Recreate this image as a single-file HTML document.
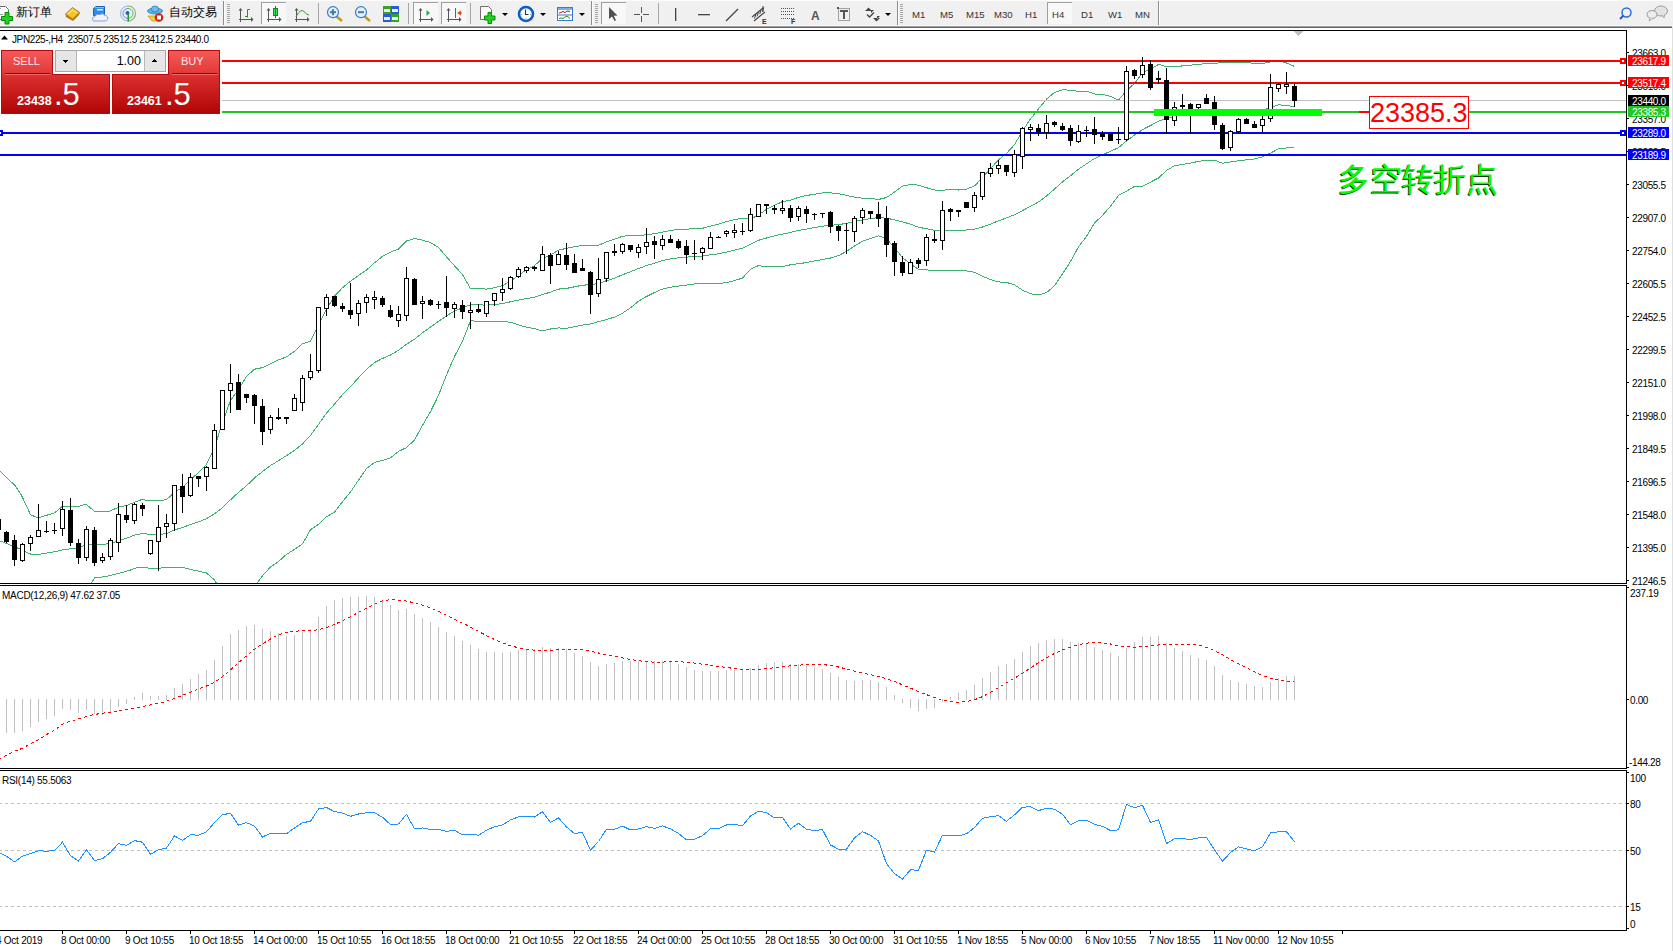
<!DOCTYPE html>
<html><head><meta charset="utf-8"><style>
html,body{margin:0;padding:0;width:1673px;height:951px;overflow:hidden;background:#fff;font-family:"Liberation Sans",sans-serif;}
.t{position:absolute;white-space:nowrap;line-height:1;}
</style></head><body>
<svg width="1673" height="951" style="position:absolute;left:0;top:0" shape-rendering="crispEdges">
<rect x="0" y="30" width="1627" height="1" fill="#000"/>
<rect x="0" y="583" width="1627" height="1" fill="#000"/>
<rect x="1626" y="30" width="1" height="554" fill="#000"/>
<rect x="0" y="585" width="1627" height="1" fill="#000"/>
<rect x="0" y="768" width="1627" height="1" fill="#000"/>
<rect x="1626" y="585" width="1" height="184" fill="#000"/>
<rect x="0" y="770" width="1627" height="1" fill="#000"/>
<rect x="0" y="930" width="1627" height="1" fill="#000"/>
<rect x="1626" y="770" width="1" height="161" fill="#000"/>
<defs><clipPath id="cm"><rect x="0" y="31" width="1626" height="552"/></clipPath></defs>
<g clip-path="url(#cm)">
<polyline points="-10.0,455.0 0.0,471.3 15.2,485.7 21.3,494.9 30.5,514.7 38.1,518.0 45.7,515.5 54.1,513.2 62.5,506.3 70.0,506.3 78.5,506.3 86.1,504.3 94.5,511.2 109.8,511.2 118.9,507.0 126.5,505.5 134.0,502.5 141.8,499.5 150.5,500.9 158.5,500.7 166.5,499.7 174.5,492.1 182.5,487.7 190.5,479.5 198.5,472.7 206.5,464.4 214.5,447.5 222.5,422.5 230.5,400.5 238.5,389.4 246.5,376.4 254.5,369.2 262.5,367.6 270.5,363.9 278.5,359.8 286.5,356.9 294.5,351.3 302.5,343.8 310.5,341.1 318.5,324.5 326.5,309.5 334.5,296.1 342.5,287.7 350.5,281.2 358.5,275.5 366.5,270.0 374.5,262.8 382.5,256.3 390.5,252.1 398.5,249.1 406.5,241.0 414.5,238.5 422.5,240.2 430.5,242.5 438.5,247.5 446.5,256.8 454.5,265.8 462.5,274.5 470.5,288.7 478.5,288.6 486.5,289.1 494.5,287.7 502.5,285.7 510.5,281.2 518.5,275.2 526.5,269.9 534.5,265.6 542.5,258.3 550.5,255.1 558.5,250.2 566.5,248.3 574.5,246.8 582.5,245.3 590.5,245.5 598.5,245.3 606.5,241.9 614.5,239.1 622.5,236.3 630.5,235.5 638.5,235.8 646.5,234.6 654.5,233.7 662.5,232.1 670.5,230.5 678.5,229.4 686.5,229.1 694.5,228.8 702.5,228.3 710.5,226.1 718.5,224.3 726.5,221.5 734.5,219.6 742.5,218.1 750.5,219.0 758.5,215.1 766.5,209.2 774.5,205.3 782.5,201.6 790.5,200.1 798.5,197.3 806.5,195.5 814.5,194.2 822.5,192.9 830.5,192.9 838.5,193.6 846.5,195.4 854.5,197.2 862.5,198.2 870.5,198.5 878.5,199.5 886.5,197.5 894.5,192.1 902.5,186.1 910.5,184.6 918.5,185.1 926.5,187.7 934.5,190.0 942.5,190.3 950.5,189.5 958.5,190.0 966.5,189.1 974.5,185.9 982.5,177.7 990.5,168.6 998.5,159.8 1006.5,153.4 1014.5,144.6 1022.5,131.0 1030.5,118.9 1038.5,108.9 1046.5,99.1 1054.5,92.4 1062.5,89.9 1070.5,90.1 1078.5,91.5 1086.5,91.2 1094.5,94.0 1102.5,94.3 1110.5,96.3 1118.5,100.0 1126.5,90.6 1134.5,83.4 1142.5,72.9 1150.5,68.9 1158.5,64.4 1166.5,66.7 1174.5,66.8 1182.5,65.9 1190.5,65.2 1198.5,64.4 1206.5,63.5 1214.5,63.5 1222.5,62.4 1230.5,62.7 1238.5,62.8 1246.5,62.9 1254.5,63.1 1262.5,63.5 1270.5,62.0 1278.5,60.7 1286.5,63.0 1294.5,66.4" fill="none" stroke="#3cb371" stroke-width="1" />
<polyline points="-10.0,538.0 0.0,540.9 10.7,545.2 19.8,549.0 30.5,554.0 41.2,554.0 53.4,552.0 64.0,549.5 74.7,548.5 85.4,545.2 94.5,544.1 105.2,544.1 115.9,541.8 126.5,538.3 134.1,535.3 143.3,533.3 150.5,534.6 158.5,534.5 166.5,533.6 174.5,529.9 182.5,527.5 190.5,524.5 198.5,521.9 206.5,518.7 214.5,513.7 222.5,507.8 230.5,499.8 238.5,492.4 246.5,485.8 254.5,477.9 262.5,471.6 270.5,465.5 278.5,460.7 286.5,455.6 294.5,450.4 302.5,443.9 310.5,435.4 318.5,424.4 326.5,413.1 334.5,404.1 342.5,394.7 350.5,386.6 358.5,377.8 366.5,369.3 374.5,362.6 382.5,358.4 390.5,355.0 398.5,350.2 406.5,344.3 414.5,339.2 422.5,332.8 430.5,327.1 438.5,321.4 446.5,315.9 454.5,311.1 462.5,307.8 470.5,304.8 478.5,304.9 486.5,305.1 494.5,304.6 502.5,303.6 510.5,301.8 518.5,300.1 526.5,298.6 534.5,297.1 542.5,294.6 550.5,292.1 558.5,289.1 566.5,288.4 574.5,286.8 582.5,285.2 590.5,284.7 598.5,283.4 606.5,280.7 614.5,278.1 622.5,274.8 630.5,271.7 638.5,268.5 646.5,265.6 654.5,263.1 662.5,260.6 670.5,258.9 678.5,257.8 686.5,257.1 694.5,256.4 702.5,256.1 710.5,254.7 718.5,253.8 726.5,252.2 734.5,250.1 742.5,248.1 750.5,244.1 758.5,240.3 766.5,238.0 774.5,235.8 782.5,234.1 790.5,232.4 798.5,230.5 806.5,229.1 814.5,227.6 822.5,226.2 830.5,225.4 838.5,224.6 846.5,223.4 854.5,221.7 862.5,219.8 870.5,218.6 878.5,217.6 886.5,218.2 894.5,219.8 902.5,221.8 910.5,224.2 918.5,227.2 926.5,228.8 934.5,230.3 942.5,230.4 950.5,230.2 958.5,230.3 966.5,230.0 974.5,229.1 982.5,227.0 990.5,224.1 998.5,220.8 1006.5,217.9 1014.5,214.7 1022.5,210.6 1030.5,206.3 1038.5,201.9 1046.5,195.9 1054.5,189.1 1062.5,181.9 1070.5,175.8 1078.5,169.2 1086.5,163.8 1094.5,158.6 1102.5,154.8 1110.5,151.3 1118.5,147.7 1126.5,140.9 1134.5,134.9 1142.5,129.6 1150.5,125.5 1158.5,121.2 1166.5,118.6 1174.5,116.2 1182.5,115.2 1190.5,114.2 1198.5,112.8 1206.5,111.8 1214.5,111.8 1222.5,112.8 1230.5,112.3 1238.5,111.8 1246.5,111.4 1254.5,111.0 1262.5,110.2 1270.5,107.5 1278.5,104.8 1286.5,105.5 1294.5,106.7" fill="none" stroke="#3cb371" stroke-width="1" />
<polyline points="-10.0,640.0 40.0,620.0 80.0,595.0 91.5,583.0 94.5,578.0 106.7,576.4 118.9,573.4 129.6,570.3 137.2,567.7 142.5,567.4 150.5,568.3 158.5,568.3 166.5,567.5 174.5,567.7 182.5,567.3 190.5,569.5 198.5,571.1 206.5,573.0 214.5,579.9 222.5,593.0 230.5,599.1 238.5,595.4 246.5,595.2 254.5,586.7 262.5,575.7 270.5,567.1 278.5,561.6 286.5,554.4 294.5,549.4 302.5,543.9 310.5,529.7 318.5,524.3 326.5,516.7 334.5,512.1 342.5,501.7 350.5,491.9 358.5,480.1 366.5,468.6 374.5,462.5 382.5,460.4 390.5,457.9 398.5,451.4 406.5,447.6 414.5,440.0 422.5,425.3 430.5,411.7 438.5,395.3 446.5,374.9 454.5,356.5 462.5,341.1 470.5,320.8 478.5,321.3 486.5,321.2 494.5,321.4 502.5,321.5 510.5,322.3 518.5,324.9 526.5,327.2 534.5,328.6 542.5,330.9 550.5,329.0 558.5,327.9 566.5,328.4 574.5,326.7 582.5,325.1 590.5,323.9 598.5,321.6 606.5,319.5 614.5,317.1 622.5,313.2 630.5,307.9 638.5,301.2 646.5,296.5 654.5,292.5 662.5,289.1 670.5,287.2 678.5,286.1 686.5,285.1 694.5,283.9 702.5,283.8 710.5,283.2 718.5,283.3 726.5,282.8 734.5,280.5 742.5,278.1 750.5,269.2 758.5,265.6 766.5,266.8 774.5,266.4 782.5,266.5 790.5,264.8 798.5,263.7 806.5,262.6 814.5,260.9 822.5,259.6 830.5,258.0 838.5,255.6 846.5,251.4 854.5,246.1 862.5,241.3 870.5,238.6 878.5,235.7 886.5,239.0 894.5,247.5 902.5,257.6 910.5,263.9 918.5,269.3 926.5,269.9 934.5,270.7 942.5,270.6 950.5,270.8 958.5,270.6 966.5,270.9 974.5,272.2 982.5,276.3 990.5,279.6 998.5,281.9 1006.5,282.4 1014.5,284.8 1022.5,290.2 1030.5,293.7 1038.5,295.0 1046.5,292.7 1054.5,285.7 1062.5,273.9 1070.5,261.5 1078.5,246.9 1086.5,236.5 1094.5,223.1 1102.5,215.4 1110.5,206.3 1118.5,195.4 1126.5,191.2 1134.5,186.4 1142.5,186.2 1150.5,182.1 1158.5,178.0 1166.5,170.5 1174.5,165.7 1182.5,164.4 1190.5,163.2 1198.5,161.3 1206.5,160.2 1214.5,160.2 1222.5,163.2 1230.5,162.0 1238.5,160.7 1246.5,159.9 1254.5,159.0 1262.5,156.9 1270.5,153.1 1278.5,148.9 1286.5,147.9 1294.5,147.0" fill="none" stroke="#3cb371" stroke-width="1" />
</g>
<rect x="0" y="100" width="1626" height="1" fill="#c0c0c0"/>
<rect x="0" y="60" width="1626" height="2" fill="#ff0000"/>
<rect x="0" y="82" width="1626" height="2" fill="#ff0000"/>
<rect x="0" y="111" width="1626" height="2" fill="#22c822"/>
<rect x="0" y="132" width="1626" height="2" fill="#0000ff"/>
<rect x="0" y="154" width="1626" height="2" fill="#0000ff"/>
<rect x="-2" y="519" width="1" height="11" fill="#000"/>
<rect x="-4" y="519" width="5" height="11" fill="#000"/>
<rect x="6" y="531" width="1" height="12" fill="#000"/>
<rect x="4" y="532" width="5" height="10" fill="#000"/>
<rect x="14" y="535" width="1" height="31" fill="#000"/>
<rect x="12" y="540" width="5" height="20" fill="#000"/>
<rect x="22" y="543" width="1" height="19" fill="#000"/>
<rect x="20" y="544" width="5" height="17" fill="#000"/>
<rect x="21" y="545" width="3" height="15" fill="#fff"/>
<rect x="30" y="535" width="1" height="16" fill="#000"/>
<rect x="28" y="537" width="5" height="7" fill="#000"/>
<rect x="29" y="538" width="3" height="5" fill="#fff"/>
<rect x="38" y="504" width="1" height="33" fill="#000"/>
<rect x="36" y="530" width="5" height="7" fill="#000"/>
<rect x="37" y="531" width="3" height="5" fill="#fff"/>
<rect x="46" y="521" width="1" height="12" fill="#000"/>
<rect x="44" y="531" width="5" height="1" fill="#000"/>
<rect x="54" y="523" width="1" height="11" fill="#000"/>
<rect x="52" y="530" width="5" height="1" fill="#000"/>
<rect x="62" y="501" width="1" height="35" fill="#000"/>
<rect x="60" y="509" width="5" height="20" fill="#000"/>
<rect x="61" y="510" width="3" height="18" fill="#fff"/>
<rect x="70" y="498" width="1" height="48" fill="#000"/>
<rect x="68" y="510" width="5" height="33" fill="#000"/>
<rect x="78" y="539" width="1" height="25" fill="#000"/>
<rect x="76" y="543" width="5" height="15" fill="#000"/>
<rect x="86" y="526" width="1" height="35" fill="#000"/>
<rect x="84" y="529" width="5" height="29" fill="#000"/>
<rect x="85" y="530" width="3" height="27" fill="#fff"/>
<rect x="94" y="527" width="1" height="39" fill="#000"/>
<rect x="92" y="530" width="5" height="33" fill="#000"/>
<rect x="102" y="553" width="1" height="10" fill="#000"/>
<rect x="100" y="557" width="5" height="4" fill="#000"/>
<rect x="101" y="558" width="3" height="2" fill="#fff"/>
<rect x="110" y="538" width="1" height="22" fill="#000"/>
<rect x="108" y="540" width="5" height="17" fill="#000"/>
<rect x="109" y="541" width="3" height="15" fill="#fff"/>
<rect x="118" y="503" width="1" height="49" fill="#000"/>
<rect x="116" y="514" width="5" height="29" fill="#000"/>
<rect x="117" y="515" width="3" height="27" fill="#fff"/>
<rect x="126" y="505" width="1" height="18" fill="#000"/>
<rect x="124" y="515" width="5" height="5" fill="#000"/>
<rect x="134" y="503" width="1" height="21" fill="#000"/>
<rect x="132" y="504" width="5" height="17" fill="#000"/>
<rect x="133" y="505" width="3" height="15" fill="#fff"/>
<rect x="142" y="503" width="1" height="13" fill="#000"/>
<rect x="140" y="505" width="5" height="4" fill="#000"/>
<rect x="150" y="540" width="1" height="15" fill="#000"/>
<rect x="148" y="540" width="5" height="14" fill="#000"/>
<rect x="149" y="541" width="3" height="12" fill="#fff"/>
<rect x="158" y="505" width="1" height="66" fill="#000"/>
<rect x="156" y="527" width="5" height="15" fill="#000"/>
<rect x="157" y="528" width="3" height="13" fill="#fff"/>
<rect x="166" y="514" width="1" height="24" fill="#000"/>
<rect x="164" y="523" width="5" height="4" fill="#000"/>
<rect x="165" y="524" width="3" height="2" fill="#fff"/>
<rect x="174" y="485" width="1" height="46" fill="#000"/>
<rect x="172" y="485" width="5" height="39" fill="#000"/>
<rect x="173" y="486" width="3" height="37" fill="#fff"/>
<rect x="182" y="474" width="1" height="39" fill="#000"/>
<rect x="180" y="486" width="5" height="11" fill="#000"/>
<rect x="190" y="473" width="1" height="24" fill="#000"/>
<rect x="188" y="477" width="5" height="19" fill="#000"/>
<rect x="189" y="478" width="3" height="17" fill="#fff"/>
<rect x="198" y="476" width="1" height="11" fill="#000"/>
<rect x="196" y="476" width="5" height="3" fill="#000"/>
<rect x="206" y="466" width="1" height="25" fill="#000"/>
<rect x="204" y="467" width="5" height="10" fill="#000"/>
<rect x="205" y="468" width="3" height="8" fill="#fff"/>
<rect x="214" y="424" width="1" height="45" fill="#000"/>
<rect x="212" y="430" width="5" height="39" fill="#000"/>
<rect x="213" y="431" width="3" height="37" fill="#fff"/>
<rect x="222" y="390" width="1" height="40" fill="#000"/>
<rect x="220" y="390" width="5" height="40" fill="#000"/>
<rect x="221" y="391" width="3" height="38" fill="#fff"/>
<rect x="230" y="364" width="1" height="49" fill="#000"/>
<rect x="228" y="383" width="5" height="8" fill="#000"/>
<rect x="229" y="384" width="3" height="6" fill="#fff"/>
<rect x="238" y="374" width="1" height="36" fill="#000"/>
<rect x="236" y="382" width="5" height="28" fill="#000"/>
<rect x="246" y="394" width="1" height="9" fill="#000"/>
<rect x="244" y="394" width="5" height="4" fill="#000"/>
<rect x="254" y="394" width="1" height="30" fill="#000"/>
<rect x="252" y="395" width="5" height="11" fill="#000"/>
<rect x="262" y="399" width="1" height="46" fill="#000"/>
<rect x="260" y="406" width="5" height="26" fill="#000"/>
<rect x="270" y="415" width="1" height="19" fill="#000"/>
<rect x="268" y="417" width="5" height="13" fill="#000"/>
<rect x="269" y="418" width="3" height="11" fill="#fff"/>
<rect x="278" y="408" width="1" height="12" fill="#000"/>
<rect x="276" y="417" width="5" height="2" fill="#000"/>
<rect x="286" y="417" width="1" height="7" fill="#000"/>
<rect x="284" y="417" width="5" height="2" fill="#000"/>
<rect x="294" y="394" width="1" height="17" fill="#000"/>
<rect x="292" y="398" width="5" height="13" fill="#000"/>
<rect x="293" y="399" width="3" height="11" fill="#fff"/>
<rect x="302" y="375" width="1" height="36" fill="#000"/>
<rect x="300" y="378" width="5" height="25" fill="#000"/>
<rect x="301" y="379" width="3" height="23" fill="#fff"/>
<rect x="310" y="354" width="1" height="26" fill="#000"/>
<rect x="308" y="371" width="5" height="7" fill="#000"/>
<rect x="309" y="372" width="3" height="5" fill="#fff"/>
<rect x="318" y="307" width="1" height="66" fill="#000"/>
<rect x="316" y="307" width="5" height="64" fill="#000"/>
<rect x="317" y="308" width="3" height="62" fill="#fff"/>
<rect x="326" y="294" width="1" height="22" fill="#000"/>
<rect x="324" y="297" width="5" height="12" fill="#000"/>
<rect x="325" y="298" width="3" height="10" fill="#fff"/>
<rect x="334" y="296" width="1" height="11" fill="#000"/>
<rect x="332" y="296" width="5" height="10" fill="#000"/>
<rect x="342" y="303" width="1" height="9" fill="#000"/>
<rect x="340" y="306" width="5" height="3" fill="#000"/>
<rect x="350" y="283" width="1" height="36" fill="#000"/>
<rect x="348" y="310" width="5" height="5" fill="#000"/>
<rect x="358" y="300" width="1" height="26" fill="#000"/>
<rect x="356" y="303" width="5" height="11" fill="#000"/>
<rect x="357" y="304" width="3" height="9" fill="#fff"/>
<rect x="366" y="294" width="1" height="19" fill="#000"/>
<rect x="364" y="297" width="5" height="6" fill="#000"/>
<rect x="365" y="298" width="3" height="4" fill="#fff"/>
<rect x="374" y="291" width="1" height="18" fill="#000"/>
<rect x="372" y="297" width="5" height="3" fill="#000"/>
<rect x="373" y="298" width="3" height="1" fill="#fff"/>
<rect x="382" y="296" width="1" height="11" fill="#000"/>
<rect x="380" y="298" width="5" height="7" fill="#000"/>
<rect x="390" y="305" width="1" height="13" fill="#000"/>
<rect x="388" y="310" width="5" height="7" fill="#000"/>
<rect x="398" y="306" width="1" height="21" fill="#000"/>
<rect x="396" y="314" width="5" height="7" fill="#000"/>
<rect x="397" y="315" width="3" height="5" fill="#fff"/>
<rect x="406" y="267" width="1" height="54" fill="#000"/>
<rect x="404" y="278" width="5" height="38" fill="#000"/>
<rect x="405" y="279" width="3" height="36" fill="#fff"/>
<rect x="414" y="278" width="1" height="27" fill="#000"/>
<rect x="412" y="279" width="5" height="26" fill="#000"/>
<rect x="422" y="296" width="1" height="23" fill="#000"/>
<rect x="420" y="301" width="5" height="3" fill="#000"/>
<rect x="421" y="302" width="3" height="1" fill="#fff"/>
<rect x="430" y="299" width="1" height="7" fill="#000"/>
<rect x="428" y="300" width="5" height="5" fill="#000"/>
<rect x="438" y="301" width="1" height="8" fill="#000"/>
<rect x="436" y="304" width="5" height="1" fill="#000"/>
<rect x="446" y="276" width="1" height="41" fill="#000"/>
<rect x="444" y="302" width="5" height="6" fill="#000"/>
<rect x="454" y="302" width="1" height="16" fill="#000"/>
<rect x="452" y="304" width="5" height="5" fill="#000"/>
<rect x="453" y="305" width="3" height="3" fill="#fff"/>
<rect x="462" y="300" width="1" height="19" fill="#000"/>
<rect x="460" y="305" width="5" height="7" fill="#000"/>
<rect x="470" y="302" width="1" height="27" fill="#000"/>
<rect x="468" y="310" width="5" height="3" fill="#000"/>
<rect x="469" y="311" width="3" height="1" fill="#fff"/>
<rect x="478" y="304" width="1" height="9" fill="#000"/>
<rect x="476" y="309" width="5" height="3" fill="#000"/>
<rect x="486" y="301" width="1" height="16" fill="#000"/>
<rect x="484" y="301" width="5" height="13" fill="#000"/>
<rect x="485" y="302" width="3" height="11" fill="#fff"/>
<rect x="494" y="293" width="1" height="13" fill="#000"/>
<rect x="492" y="293" width="5" height="8" fill="#000"/>
<rect x="493" y="294" width="3" height="6" fill="#fff"/>
<rect x="502" y="278" width="1" height="23" fill="#000"/>
<rect x="500" y="289" width="5" height="4" fill="#000"/>
<rect x="501" y="290" width="3" height="2" fill="#fff"/>
<rect x="510" y="276" width="1" height="14" fill="#000"/>
<rect x="508" y="277" width="5" height="12" fill="#000"/>
<rect x="509" y="278" width="3" height="10" fill="#fff"/>
<rect x="518" y="267" width="1" height="11" fill="#000"/>
<rect x="516" y="269" width="5" height="8" fill="#000"/>
<rect x="517" y="270" width="3" height="6" fill="#fff"/>
<rect x="526" y="266" width="1" height="7" fill="#000"/>
<rect x="524" y="267" width="5" height="4" fill="#000"/>
<rect x="525" y="268" width="3" height="2" fill="#fff"/>
<rect x="534" y="266" width="1" height="5" fill="#000"/>
<rect x="532" y="267" width="5" height="2" fill="#000"/>
<rect x="542" y="246" width="1" height="25" fill="#000"/>
<rect x="540" y="254" width="5" height="17" fill="#000"/>
<rect x="541" y="255" width="3" height="15" fill="#fff"/>
<rect x="550" y="253" width="1" height="31" fill="#000"/>
<rect x="548" y="255" width="5" height="11" fill="#000"/>
<rect x="558" y="251" width="1" height="14" fill="#000"/>
<rect x="556" y="254" width="5" height="11" fill="#000"/>
<rect x="557" y="255" width="3" height="9" fill="#fff"/>
<rect x="566" y="243" width="1" height="27" fill="#000"/>
<rect x="564" y="255" width="5" height="10" fill="#000"/>
<rect x="574" y="254" width="1" height="19" fill="#000"/>
<rect x="572" y="263" width="5" height="10" fill="#000"/>
<rect x="582" y="259" width="1" height="12" fill="#000"/>
<rect x="580" y="268" width="5" height="3" fill="#000"/>
<rect x="590" y="271" width="1" height="43" fill="#000"/>
<rect x="588" y="272" width="5" height="23" fill="#000"/>
<rect x="598" y="258" width="1" height="39" fill="#000"/>
<rect x="596" y="279" width="5" height="15" fill="#000"/>
<rect x="597" y="280" width="3" height="13" fill="#fff"/>
<rect x="606" y="252" width="1" height="30" fill="#000"/>
<rect x="604" y="252" width="5" height="27" fill="#000"/>
<rect x="605" y="253" width="3" height="25" fill="#fff"/>
<rect x="614" y="244" width="1" height="12" fill="#000"/>
<rect x="612" y="251" width="5" height="2" fill="#000"/>
<rect x="622" y="243" width="1" height="11" fill="#000"/>
<rect x="620" y="244" width="5" height="8" fill="#000"/>
<rect x="621" y="245" width="3" height="6" fill="#fff"/>
<rect x="630" y="245" width="1" height="7" fill="#000"/>
<rect x="628" y="245" width="5" height="5" fill="#000"/>
<rect x="638" y="244" width="1" height="14" fill="#000"/>
<rect x="636" y="247" width="5" height="6" fill="#000"/>
<rect x="637" y="248" width="3" height="4" fill="#fff"/>
<rect x="646" y="228" width="1" height="26" fill="#000"/>
<rect x="644" y="242" width="5" height="5" fill="#000"/>
<rect x="645" y="243" width="3" height="3" fill="#fff"/>
<rect x="654" y="236" width="1" height="23" fill="#000"/>
<rect x="652" y="241" width="5" height="4" fill="#000"/>
<rect x="662" y="235" width="1" height="15" fill="#000"/>
<rect x="660" y="239" width="5" height="7" fill="#000"/>
<rect x="661" y="240" width="3" height="5" fill="#fff"/>
<rect x="670" y="235" width="1" height="8" fill="#000"/>
<rect x="668" y="239" width="5" height="4" fill="#000"/>
<rect x="678" y="239" width="1" height="10" fill="#000"/>
<rect x="676" y="241" width="5" height="7" fill="#000"/>
<rect x="686" y="240" width="1" height="24" fill="#000"/>
<rect x="684" y="246" width="5" height="9" fill="#000"/>
<rect x="694" y="240" width="1" height="20" fill="#000"/>
<rect x="692" y="253" width="5" height="1" fill="#000"/>
<rect x="702" y="247" width="1" height="13" fill="#000"/>
<rect x="700" y="248" width="5" height="5" fill="#000"/>
<rect x="701" y="249" width="3" height="3" fill="#fff"/>
<rect x="710" y="232" width="1" height="17" fill="#000"/>
<rect x="708" y="237" width="5" height="12" fill="#000"/>
<rect x="709" y="238" width="3" height="10" fill="#fff"/>
<rect x="718" y="236" width="1" height="2" fill="#000"/>
<rect x="716" y="237" width="5" height="1" fill="#000"/>
<rect x="726" y="230" width="1" height="7" fill="#000"/>
<rect x="724" y="231" width="5" height="3" fill="#000"/>
<rect x="725" y="232" width="3" height="1" fill="#fff"/>
<rect x="734" y="224" width="1" height="14" fill="#000"/>
<rect x="732" y="230" width="5" height="3" fill="#000"/>
<rect x="733" y="231" width="3" height="1" fill="#fff"/>
<rect x="742" y="223" width="1" height="12" fill="#000"/>
<rect x="740" y="231" width="5" height="1" fill="#000"/>
<rect x="750" y="208" width="1" height="24" fill="#000"/>
<rect x="748" y="214" width="5" height="17" fill="#000"/>
<rect x="749" y="215" width="3" height="15" fill="#fff"/>
<rect x="758" y="204" width="1" height="13" fill="#000"/>
<rect x="756" y="204" width="5" height="13" fill="#000"/>
<rect x="757" y="205" width="3" height="11" fill="#fff"/>
<rect x="766" y="204" width="1" height="10" fill="#000"/>
<rect x="764" y="204" width="5" height="2" fill="#000"/>
<rect x="774" y="205" width="1" height="9" fill="#000"/>
<rect x="772" y="208" width="5" height="2" fill="#000"/>
<rect x="782" y="200" width="1" height="14" fill="#000"/>
<rect x="780" y="208" width="5" height="3" fill="#000"/>
<rect x="781" y="209" width="3" height="1" fill="#fff"/>
<rect x="790" y="205" width="1" height="17" fill="#000"/>
<rect x="788" y="208" width="5" height="10" fill="#000"/>
<rect x="798" y="206" width="1" height="15" fill="#000"/>
<rect x="796" y="208" width="5" height="9" fill="#000"/>
<rect x="797" y="209" width="3" height="7" fill="#fff"/>
<rect x="806" y="206" width="1" height="17" fill="#000"/>
<rect x="804" y="209" width="5" height="5" fill="#000"/>
<rect x="814" y="213" width="1" height="7" fill="#000"/>
<rect x="812" y="214" width="5" height="1" fill="#000"/>
<rect x="822" y="213" width="1" height="5" fill="#000"/>
<rect x="820" y="213" width="5" height="1" fill="#000"/>
<rect x="830" y="211" width="1" height="22" fill="#000"/>
<rect x="828" y="212" width="5" height="15" fill="#000"/>
<rect x="838" y="225" width="1" height="16" fill="#000"/>
<rect x="836" y="226" width="5" height="5" fill="#000"/>
<rect x="846" y="223" width="1" height="31" fill="#000"/>
<rect x="844" y="230" width="5" height="1" fill="#000"/>
<rect x="854" y="216" width="1" height="26" fill="#000"/>
<rect x="852" y="218" width="5" height="14" fill="#000"/>
<rect x="853" y="219" width="3" height="12" fill="#fff"/>
<rect x="862" y="208" width="1" height="16" fill="#000"/>
<rect x="860" y="210" width="5" height="8" fill="#000"/>
<rect x="861" y="211" width="3" height="6" fill="#fff"/>
<rect x="870" y="211" width="1" height="8" fill="#000"/>
<rect x="868" y="211" width="5" height="3" fill="#000"/>
<rect x="878" y="202" width="1" height="25" fill="#000"/>
<rect x="876" y="214" width="5" height="5" fill="#000"/>
<rect x="886" y="206" width="1" height="51" fill="#000"/>
<rect x="884" y="218" width="5" height="27" fill="#000"/>
<rect x="894" y="241" width="1" height="35" fill="#000"/>
<rect x="892" y="243" width="5" height="19" fill="#000"/>
<rect x="902" y="256" width="1" height="20" fill="#000"/>
<rect x="900" y="262" width="5" height="11" fill="#000"/>
<rect x="910" y="259" width="1" height="15" fill="#000"/>
<rect x="908" y="262" width="5" height="12" fill="#000"/>
<rect x="909" y="263" width="3" height="10" fill="#fff"/>
<rect x="918" y="258" width="1" height="10" fill="#000"/>
<rect x="916" y="260" width="5" height="4" fill="#000"/>
<rect x="926" y="234" width="1" height="32" fill="#000"/>
<rect x="924" y="237" width="5" height="24" fill="#000"/>
<rect x="925" y="238" width="3" height="22" fill="#fff"/>
<rect x="934" y="231" width="1" height="12" fill="#000"/>
<rect x="932" y="239" width="5" height="2" fill="#000"/>
<rect x="942" y="201" width="1" height="49" fill="#000"/>
<rect x="940" y="210" width="5" height="31" fill="#000"/>
<rect x="941" y="211" width="3" height="29" fill="#fff"/>
<rect x="950" y="208" width="1" height="13" fill="#000"/>
<rect x="948" y="209" width="5" height="3" fill="#000"/>
<rect x="958" y="210" width="1" height="7" fill="#000"/>
<rect x="956" y="210" width="5" height="2" fill="#000"/>
<rect x="966" y="202" width="1" height="6" fill="#000"/>
<rect x="964" y="202" width="5" height="6" fill="#000"/>
<rect x="974" y="192" width="1" height="20" fill="#000"/>
<rect x="972" y="195" width="5" height="13" fill="#000"/>
<rect x="973" y="196" width="3" height="11" fill="#fff"/>
<rect x="982" y="172" width="1" height="28" fill="#000"/>
<rect x="980" y="172" width="5" height="25" fill="#000"/>
<rect x="981" y="173" width="3" height="23" fill="#fff"/>
<rect x="990" y="163" width="1" height="14" fill="#000"/>
<rect x="988" y="168" width="5" height="6" fill="#000"/>
<rect x="989" y="169" width="3" height="4" fill="#fff"/>
<rect x="998" y="160" width="1" height="14" fill="#000"/>
<rect x="996" y="165" width="5" height="4" fill="#000"/>
<rect x="997" y="166" width="3" height="2" fill="#fff"/>
<rect x="1006" y="165" width="1" height="11" fill="#000"/>
<rect x="1004" y="165" width="5" height="7" fill="#000"/>
<rect x="1014" y="150" width="1" height="27" fill="#000"/>
<rect x="1012" y="154" width="5" height="19" fill="#000"/>
<rect x="1013" y="155" width="3" height="17" fill="#fff"/>
<rect x="1022" y="127" width="1" height="42" fill="#000"/>
<rect x="1020" y="128" width="5" height="29" fill="#000"/>
<rect x="1021" y="129" width="3" height="27" fill="#fff"/>
<rect x="1030" y="124" width="1" height="17" fill="#000"/>
<rect x="1028" y="127" width="5" height="3" fill="#000"/>
<rect x="1029" y="128" width="3" height="1" fill="#fff"/>
<rect x="1038" y="124" width="1" height="12" fill="#000"/>
<rect x="1036" y="128" width="5" height="4" fill="#000"/>
<rect x="1046" y="115" width="1" height="24" fill="#000"/>
<rect x="1044" y="123" width="5" height="10" fill="#000"/>
<rect x="1045" y="124" width="3" height="8" fill="#fff"/>
<rect x="1054" y="121" width="1" height="6" fill="#000"/>
<rect x="1052" y="122" width="5" height="3" fill="#000"/>
<rect x="1062" y="123" width="1" height="8" fill="#000"/>
<rect x="1060" y="126" width="5" height="4" fill="#000"/>
<rect x="1070" y="125" width="1" height="21" fill="#000"/>
<rect x="1068" y="128" width="5" height="13" fill="#000"/>
<rect x="1078" y="125" width="1" height="18" fill="#000"/>
<rect x="1076" y="131" width="5" height="11" fill="#000"/>
<rect x="1077" y="132" width="3" height="9" fill="#fff"/>
<rect x="1086" y="126" width="1" height="11" fill="#000"/>
<rect x="1084" y="130" width="5" height="1" fill="#000"/>
<rect x="1094" y="117" width="1" height="27" fill="#000"/>
<rect x="1092" y="129" width="5" height="6" fill="#000"/>
<rect x="1102" y="131" width="1" height="9" fill="#000"/>
<rect x="1100" y="133" width="5" height="4" fill="#000"/>
<rect x="1110" y="134" width="1" height="7" fill="#000"/>
<rect x="1108" y="134" width="5" height="7" fill="#000"/>
<rect x="1118" y="127" width="1" height="17" fill="#000"/>
<rect x="1116" y="139" width="5" height="1" fill="#000"/>
<rect x="1126" y="66" width="1" height="75" fill="#000"/>
<rect x="1124" y="71" width="5" height="69" fill="#000"/>
<rect x="1125" y="72" width="3" height="67" fill="#fff"/>
<rect x="1134" y="69" width="1" height="10" fill="#000"/>
<rect x="1132" y="70" width="5" height="6" fill="#000"/>
<rect x="1142" y="57" width="1" height="21" fill="#000"/>
<rect x="1140" y="65" width="5" height="10" fill="#000"/>
<rect x="1141" y="66" width="3" height="8" fill="#fff"/>
<rect x="1150" y="60" width="1" height="30" fill="#000"/>
<rect x="1148" y="64" width="5" height="24" fill="#000"/>
<rect x="1158" y="71" width="1" height="13" fill="#000"/>
<rect x="1156" y="78" width="5" height="2" fill="#000"/>
<rect x="1166" y="68" width="1" height="66" fill="#000"/>
<rect x="1164" y="80" width="5" height="40" fill="#000"/>
<rect x="1174" y="102" width="1" height="24" fill="#000"/>
<rect x="1172" y="107" width="5" height="14" fill="#000"/>
<rect x="1173" y="108" width="3" height="12" fill="#fff"/>
<rect x="1182" y="94" width="1" height="15" fill="#000"/>
<rect x="1180" y="105" width="5" height="2" fill="#000"/>
<rect x="1190" y="103" width="1" height="31" fill="#000"/>
<rect x="1188" y="104" width="5" height="5" fill="#000"/>
<rect x="1198" y="104" width="1" height="5" fill="#000"/>
<rect x="1196" y="104" width="5" height="4" fill="#000"/>
<rect x="1197" y="105" width="3" height="2" fill="#fff"/>
<rect x="1206" y="94" width="1" height="10" fill="#000"/>
<rect x="1204" y="98" width="5" height="6" fill="#000"/>
<rect x="1214" y="96" width="1" height="34" fill="#000"/>
<rect x="1212" y="102" width="5" height="23" fill="#000"/>
<rect x="1222" y="123" width="1" height="27" fill="#000"/>
<rect x="1220" y="125" width="5" height="24" fill="#000"/>
<rect x="1230" y="130" width="1" height="21" fill="#000"/>
<rect x="1228" y="131" width="5" height="17" fill="#000"/>
<rect x="1229" y="132" width="3" height="15" fill="#fff"/>
<rect x="1238" y="118" width="1" height="16" fill="#000"/>
<rect x="1236" y="119" width="5" height="13" fill="#000"/>
<rect x="1237" y="120" width="3" height="11" fill="#fff"/>
<rect x="1246" y="118" width="1" height="6" fill="#000"/>
<rect x="1244" y="119" width="5" height="5" fill="#000"/>
<rect x="1254" y="121" width="1" height="7" fill="#000"/>
<rect x="1252" y="124" width="5" height="4" fill="#000"/>
<rect x="1262" y="116" width="1" height="16" fill="#000"/>
<rect x="1260" y="119" width="5" height="7" fill="#000"/>
<rect x="1261" y="120" width="3" height="5" fill="#fff"/>
<rect x="1270" y="74" width="1" height="48" fill="#000"/>
<rect x="1268" y="87" width="5" height="32" fill="#000"/>
<rect x="1269" y="88" width="3" height="30" fill="#fff"/>
<rect x="1278" y="83" width="1" height="9" fill="#000"/>
<rect x="1276" y="84" width="5" height="5" fill="#000"/>
<rect x="1277" y="85" width="3" height="3" fill="#fff"/>
<rect x="1286" y="72" width="1" height="22" fill="#000"/>
<rect x="1284" y="84" width="5" height="3" fill="#000"/>
<rect x="1285" y="85" width="3" height="1" fill="#fff"/>
<rect x="1294" y="84" width="1" height="23" fill="#000"/>
<rect x="1292" y="86" width="5" height="15" fill="#000"/>
<rect x="1154" y="109" width="168" height="7" fill="#00ff00"/>
<rect x="1359" y="111" width="10" height="2" fill="#ff0000"/>
<rect x="-2" y="699" width="1" height="38" fill="#c0c0c0"/>
<rect x="6" y="699" width="1" height="34" fill="#c0c0c0"/>
<rect x="14" y="699" width="1" height="34" fill="#c0c0c0"/>
<rect x="22" y="699" width="1" height="32" fill="#c0c0c0"/>
<rect x="30" y="699" width="1" height="28" fill="#c0c0c0"/>
<rect x="38" y="699" width="1" height="23" fill="#c0c0c0"/>
<rect x="46" y="699" width="1" height="20" fill="#c0c0c0"/>
<rect x="54" y="699" width="1" height="17" fill="#c0c0c0"/>
<rect x="62" y="699" width="1" height="10" fill="#c0c0c0"/>
<rect x="70" y="699" width="1" height="11" fill="#c0c0c0"/>
<rect x="78" y="699" width="1" height="14" fill="#c0c0c0"/>
<rect x="86" y="699" width="1" height="11" fill="#c0c0c0"/>
<rect x="94" y="699" width="1" height="15" fill="#c0c0c0"/>
<rect x="102" y="699" width="1" height="16" fill="#c0c0c0"/>
<rect x="110" y="699" width="1" height="14" fill="#c0c0c0"/>
<rect x="118" y="699" width="1" height="8" fill="#c0c0c0"/>
<rect x="126" y="699" width="1" height="5" fill="#c0c0c0"/>
<rect x="134" y="697" width="1" height="3" fill="#c0c0c0"/>
<rect x="142" y="693" width="1" height="7" fill="#c0c0c0"/>
<rect x="150" y="696" width="1" height="4" fill="#c0c0c0"/>
<rect x="158" y="696" width="1" height="4" fill="#c0c0c0"/>
<rect x="166" y="695" width="1" height="5" fill="#c0c0c0"/>
<rect x="174" y="688" width="1" height="12" fill="#c0c0c0"/>
<rect x="182" y="684" width="1" height="16" fill="#c0c0c0"/>
<rect x="190" y="679" width="1" height="21" fill="#c0c0c0"/>
<rect x="198" y="674" width="1" height="26" fill="#c0c0c0"/>
<rect x="206" y="670" width="1" height="30" fill="#c0c0c0"/>
<rect x="214" y="660" width="1" height="40" fill="#c0c0c0"/>
<rect x="222" y="646" width="1" height="54" fill="#c0c0c0"/>
<rect x="230" y="634" width="1" height="66" fill="#c0c0c0"/>
<rect x="238" y="630" width="1" height="70" fill="#c0c0c0"/>
<rect x="246" y="626" width="1" height="74" fill="#c0c0c0"/>
<rect x="254" y="625" width="1" height="75" fill="#c0c0c0"/>
<rect x="262" y="629" width="1" height="71" fill="#c0c0c0"/>
<rect x="270" y="631" width="1" height="69" fill="#c0c0c0"/>
<rect x="278" y="633" width="1" height="67" fill="#c0c0c0"/>
<rect x="286" y="636" width="1" height="64" fill="#c0c0c0"/>
<rect x="294" y="635" width="1" height="65" fill="#c0c0c0"/>
<rect x="302" y="632" width="1" height="68" fill="#c0c0c0"/>
<rect x="310" y="629" width="1" height="71" fill="#c0c0c0"/>
<rect x="318" y="617" width="1" height="83" fill="#c0c0c0"/>
<rect x="326" y="606" width="1" height="94" fill="#c0c0c0"/>
<rect x="334" y="600" width="1" height="100" fill="#c0c0c0"/>
<rect x="342" y="598" width="1" height="102" fill="#c0c0c0"/>
<rect x="350" y="597" width="1" height="103" fill="#c0c0c0"/>
<rect x="358" y="597" width="1" height="103" fill="#c0c0c0"/>
<rect x="366" y="596" width="1" height="104" fill="#c0c0c0"/>
<rect x="374" y="597" width="1" height="103" fill="#c0c0c0"/>
<rect x="382" y="600" width="1" height="100" fill="#c0c0c0"/>
<rect x="390" y="605" width="1" height="95" fill="#c0c0c0"/>
<rect x="398" y="610" width="1" height="90" fill="#c0c0c0"/>
<rect x="406" y="609" width="1" height="91" fill="#c0c0c0"/>
<rect x="414" y="614" width="1" height="86" fill="#c0c0c0"/>
<rect x="422" y="618" width="1" height="82" fill="#c0c0c0"/>
<rect x="430" y="622" width="1" height="78" fill="#c0c0c0"/>
<rect x="438" y="627" width="1" height="73" fill="#c0c0c0"/>
<rect x="446" y="632" width="1" height="68" fill="#c0c0c0"/>
<rect x="454" y="636" width="1" height="64" fill="#c0c0c0"/>
<rect x="462" y="641" width="1" height="59" fill="#c0c0c0"/>
<rect x="470" y="645" width="1" height="55" fill="#c0c0c0"/>
<rect x="478" y="649" width="1" height="51" fill="#c0c0c0"/>
<rect x="486" y="652" width="1" height="48" fill="#c0c0c0"/>
<rect x="494" y="652" width="1" height="48" fill="#c0c0c0"/>
<rect x="502" y="653" width="1" height="47" fill="#c0c0c0"/>
<rect x="510" y="652" width="1" height="48" fill="#c0c0c0"/>
<rect x="518" y="650" width="1" height="50" fill="#c0c0c0"/>
<rect x="526" y="649" width="1" height="51" fill="#c0c0c0"/>
<rect x="534" y="649" width="1" height="51" fill="#c0c0c0"/>
<rect x="542" y="647" width="1" height="53" fill="#c0c0c0"/>
<rect x="550" y="648" width="1" height="52" fill="#c0c0c0"/>
<rect x="558" y="648" width="1" height="52" fill="#c0c0c0"/>
<rect x="566" y="649" width="1" height="51" fill="#c0c0c0"/>
<rect x="574" y="653" width="1" height="47" fill="#c0c0c0"/>
<rect x="582" y="656" width="1" height="44" fill="#c0c0c0"/>
<rect x="590" y="662" width="1" height="38" fill="#c0c0c0"/>
<rect x="598" y="666" width="1" height="34" fill="#c0c0c0"/>
<rect x="606" y="664" width="1" height="36" fill="#c0c0c0"/>
<rect x="614" y="663" width="1" height="37" fill="#c0c0c0"/>
<rect x="622" y="661" width="1" height="39" fill="#c0c0c0"/>
<rect x="630" y="661" width="1" height="39" fill="#c0c0c0"/>
<rect x="638" y="661" width="1" height="39" fill="#c0c0c0"/>
<rect x="646" y="661" width="1" height="39" fill="#c0c0c0"/>
<rect x="654" y="661" width="1" height="39" fill="#c0c0c0"/>
<rect x="662" y="661" width="1" height="39" fill="#c0c0c0"/>
<rect x="670" y="662" width="1" height="38" fill="#c0c0c0"/>
<rect x="678" y="664" width="1" height="36" fill="#c0c0c0"/>
<rect x="686" y="667" width="1" height="33" fill="#c0c0c0"/>
<rect x="694" y="670" width="1" height="30" fill="#c0c0c0"/>
<rect x="702" y="671" width="1" height="29" fill="#c0c0c0"/>
<rect x="710" y="671" width="1" height="29" fill="#c0c0c0"/>
<rect x="718" y="671" width="1" height="29" fill="#c0c0c0"/>
<rect x="726" y="670" width="1" height="30" fill="#c0c0c0"/>
<rect x="734" y="670" width="1" height="30" fill="#c0c0c0"/>
<rect x="742" y="670" width="1" height="30" fill="#c0c0c0"/>
<rect x="750" y="668" width="1" height="32" fill="#c0c0c0"/>
<rect x="758" y="665" width="1" height="35" fill="#c0c0c0"/>
<rect x="766" y="663" width="1" height="37" fill="#c0c0c0"/>
<rect x="774" y="662" width="1" height="38" fill="#c0c0c0"/>
<rect x="782" y="662" width="1" height="38" fill="#c0c0c0"/>
<rect x="790" y="664" width="1" height="36" fill="#c0c0c0"/>
<rect x="798" y="664" width="1" height="36" fill="#c0c0c0"/>
<rect x="806" y="666" width="1" height="34" fill="#c0c0c0"/>
<rect x="814" y="667" width="1" height="33" fill="#c0c0c0"/>
<rect x="822" y="669" width="1" height="31" fill="#c0c0c0"/>
<rect x="830" y="673" width="1" height="27" fill="#c0c0c0"/>
<rect x="838" y="677" width="1" height="23" fill="#c0c0c0"/>
<rect x="846" y="680" width="1" height="20" fill="#c0c0c0"/>
<rect x="854" y="681" width="1" height="19" fill="#c0c0c0"/>
<rect x="862" y="680" width="1" height="20" fill="#c0c0c0"/>
<rect x="870" y="680" width="1" height="20" fill="#c0c0c0"/>
<rect x="878" y="682" width="1" height="18" fill="#c0c0c0"/>
<rect x="886" y="687" width="1" height="13" fill="#c0c0c0"/>
<rect x="894" y="695" width="1" height="5" fill="#c0c0c0"/>
<rect x="902" y="699" width="1" height="4" fill="#c0c0c0"/>
<rect x="910" y="699" width="1" height="9" fill="#c0c0c0"/>
<rect x="918" y="699" width="1" height="12" fill="#c0c0c0"/>
<rect x="926" y="699" width="1" height="10" fill="#c0c0c0"/>
<rect x="934" y="699" width="1" height="9" fill="#c0c0c0"/>
<rect x="942" y="699" width="1" height="3" fill="#c0c0c0"/>
<rect x="950" y="697" width="1" height="3" fill="#c0c0c0"/>
<rect x="958" y="693" width="1" height="7" fill="#c0c0c0"/>
<rect x="966" y="690" width="1" height="10" fill="#c0c0c0"/>
<rect x="974" y="685" width="1" height="15" fill="#c0c0c0"/>
<rect x="982" y="678" width="1" height="22" fill="#c0c0c0"/>
<rect x="990" y="672" width="1" height="28" fill="#c0c0c0"/>
<rect x="998" y="666" width="1" height="34" fill="#c0c0c0"/>
<rect x="1006" y="664" width="1" height="36" fill="#c0c0c0"/>
<rect x="1014" y="659" width="1" height="41" fill="#c0c0c0"/>
<rect x="1022" y="652" width="1" height="48" fill="#c0c0c0"/>
<rect x="1030" y="646" width="1" height="54" fill="#c0c0c0"/>
<rect x="1038" y="643" width="1" height="57" fill="#c0c0c0"/>
<rect x="1046" y="640" width="1" height="60" fill="#c0c0c0"/>
<rect x="1054" y="639" width="1" height="61" fill="#c0c0c0"/>
<rect x="1062" y="639" width="1" height="61" fill="#c0c0c0"/>
<rect x="1070" y="642" width="1" height="58" fill="#c0c0c0"/>
<rect x="1078" y="643" width="1" height="57" fill="#c0c0c0"/>
<rect x="1086" y="644" width="1" height="56" fill="#c0c0c0"/>
<rect x="1094" y="647" width="1" height="53" fill="#c0c0c0"/>
<rect x="1102" y="650" width="1" height="50" fill="#c0c0c0"/>
<rect x="1110" y="653" width="1" height="47" fill="#c0c0c0"/>
<rect x="1118" y="656" width="1" height="44" fill="#c0c0c0"/>
<rect x="1126" y="648" width="1" height="52" fill="#c0c0c0"/>
<rect x="1134" y="642" width="1" height="58" fill="#c0c0c0"/>
<rect x="1142" y="637" width="1" height="63" fill="#c0c0c0"/>
<rect x="1150" y="637" width="1" height="63" fill="#c0c0c0"/>
<rect x="1158" y="636" width="1" height="64" fill="#c0c0c0"/>
<rect x="1166" y="643" width="1" height="57" fill="#c0c0c0"/>
<rect x="1174" y="648" width="1" height="52" fill="#c0c0c0"/>
<rect x="1182" y="651" width="1" height="49" fill="#c0c0c0"/>
<rect x="1190" y="655" width="1" height="45" fill="#c0c0c0"/>
<rect x="1198" y="658" width="1" height="42" fill="#c0c0c0"/>
<rect x="1206" y="660" width="1" height="40" fill="#c0c0c0"/>
<rect x="1214" y="666" width="1" height="34" fill="#c0c0c0"/>
<rect x="1222" y="675" width="1" height="25" fill="#c0c0c0"/>
<rect x="1230" y="680" width="1" height="20" fill="#c0c0c0"/>
<rect x="1238" y="682" width="1" height="18" fill="#c0c0c0"/>
<rect x="1246" y="684" width="1" height="16" fill="#c0c0c0"/>
<rect x="1254" y="686" width="1" height="14" fill="#c0c0c0"/>
<rect x="1262" y="687" width="1" height="13" fill="#c0c0c0"/>
<rect x="1270" y="682" width="1" height="18" fill="#c0c0c0"/>
<rect x="1278" y="678" width="1" height="22" fill="#c0c0c0"/>
<rect x="1286" y="676" width="1" height="24" fill="#c0c0c0"/>
<rect x="1294" y="676" width="1" height="24" fill="#c0c0c0"/>
<polyline points="-1.5,759.3 6.5,755.2 14.5,751.3 22.5,748.3 30.5,743.6 38.5,739.8 46.5,734.6 54.5,730.3 62.5,724.2 70.5,721.2 78.5,719.0 86.5,716.4 94.5,714.5 102.5,713.2 110.5,712.2 118.5,710.9 126.5,709.6 134.5,708.3 142.5,706.6 150.5,704.8 158.5,703.3 166.5,701.3 174.5,698.4 182.5,695.3 190.5,692.2 198.5,689.0 206.5,686.0 214.5,682.3 222.5,676.7 230.5,669.9 238.5,662.7 246.5,655.9 254.5,649.3 262.5,643.8 270.5,639.0 278.5,634.9 286.5,632.3 294.5,631.1 302.5,630.9 310.5,630.7 318.5,629.7 326.5,627.6 334.5,624.4 342.5,620.7 350.5,616.8 358.5,612.4 366.5,608.1 374.5,604.2 382.5,600.9 390.5,599.7 398.5,600.1 406.5,601.1 414.5,602.9 422.5,605.2 430.5,608.0 438.5,611.4 446.5,615.3 454.5,619.2 462.5,623.1 470.5,627.0 478.5,631.4 486.5,635.6 494.5,639.5 502.5,642.9 510.5,645.7 518.5,647.8 526.5,649.3 534.5,650.2 542.5,650.4 550.5,650.3 558.5,649.8 566.5,649.5 574.5,649.5 582.5,649.9 590.5,651.2 598.5,653.0 606.5,654.7 614.5,656.4 622.5,657.9 630.5,659.4 638.5,660.7 646.5,661.6 654.5,662.2 662.5,662.1 670.5,661.7 678.5,661.7 686.5,662.2 694.5,663.1 702.5,664.3 710.5,665.4 718.5,666.5 726.5,667.5 734.5,668.5 742.5,669.4 750.5,669.8 758.5,669.5 766.5,668.7 774.5,667.7 782.5,666.7 790.5,665.9 798.5,665.2 806.5,664.7 814.5,664.4 822.5,664.5 830.5,665.5 838.5,667.0 846.5,669.0 854.5,671.1 862.5,672.9 870.5,674.7 878.5,676.4 886.5,678.6 894.5,681.5 902.5,684.8 910.5,688.2 918.5,691.5 926.5,694.6 934.5,697.6 942.5,699.9 950.5,701.6 958.5,702.3 966.5,701.7 974.5,699.8 982.5,696.6 990.5,692.3 998.5,687.6 1006.5,682.8 1014.5,678.2 1022.5,673.2 1030.5,668.0 1038.5,662.8 1046.5,657.8 1054.5,653.5 1062.5,649.9 1070.5,647.1 1078.5,644.8 1086.5,643.1 1094.5,642.5 1102.5,642.9 1110.5,644.0 1118.5,645.8 1126.5,646.8 1134.5,647.1 1142.5,646.6 1150.5,645.9 1158.5,645.0 1166.5,644.6 1174.5,644.4 1182.5,644.2 1190.5,644.1 1198.5,645.2 1206.5,647.3 1214.5,650.6 1222.5,654.9 1230.5,659.7 1238.5,663.9 1246.5,667.9 1254.5,671.8 1262.5,675.4 1270.5,678.1 1278.5,680.1 1286.5,681.1 1294.5,681.2" fill="none" stroke="#ff0000" stroke-width="1" stroke-dasharray="3 3"/>
<line x1="0" y1="803.5" x2="1626" y2="803.5" stroke="#c0c0c0" stroke-width="1" stroke-dasharray="3 3" stroke-dashoffset="1"/>
<line x1="0" y1="850.5" x2="1626" y2="850.5" stroke="#c0c0c0" stroke-width="1" stroke-dasharray="3 3" stroke-dashoffset="1"/>
<line x1="0" y1="906.5" x2="1626" y2="906.5" stroke="#c0c0c0" stroke-width="1" stroke-dasharray="3 3" stroke-dashoffset="1"/>
<polyline points="-1.5,852.4 6.5,856.3 14.5,861.9 22.5,856.1 30.5,853.5 38.5,850.8 46.5,851.2 54.5,850.7 62.5,842.2 70.5,855.7 78.5,860.9 86.5,849.8 94.5,860.6 102.5,858.7 110.5,852.3 118.5,843.6 126.5,845.4 134.5,840.6 142.5,842.2 150.5,854.3 158.5,849.6 166.5,848.1 174.5,835.9 182.5,840.3 190.5,834.8 198.5,835.2 206.5,831.9 214.5,822.5 222.5,814.6 230.5,813.4 238.5,825.2 246.5,822.6 254.5,826.2 262.5,837.0 270.5,833.2 278.5,833.7 286.5,833.7 294.5,827.9 302.5,822.8 310.5,821.2 318.5,809.0 326.5,807.5 334.5,811.6 342.5,813.1 350.5,816.3 358.5,814.0 366.5,812.8 374.5,812.8 382.5,817.2 390.5,824.6 398.5,824.0 406.5,814.3 414.5,828.8 422.5,827.9 430.5,829.5 438.5,829.5 446.5,831.4 454.5,830.2 462.5,834.9 470.5,834.4 478.5,835.2 486.5,830.3 494.5,826.7 502.5,824.9 510.5,819.9 518.5,816.9 526.5,816.1 534.5,817.1 542.5,811.7 550.5,822.5 558.5,817.9 566.5,826.9 574.5,833.5 582.5,832.5 590.5,850.1 598.5,841.5 606.5,829.3 614.5,829.3 622.5,826.1 630.5,829.9 638.5,829.0 646.5,826.7 654.5,828.4 662.5,825.9 670.5,828.8 678.5,833.5 686.5,839.8 694.5,839.2 702.5,835.7 710.5,828.7 718.5,828.7 726.5,825.0 734.5,824.4 742.5,825.7 750.5,815.9 758.5,811.3 766.5,812.6 774.5,817.9 782.5,817.3 790.5,829.0 798.5,823.2 806.5,829.3 814.5,830.5 822.5,829.7 830.5,845.0 838.5,849.1 846.5,849.1 854.5,837.9 862.5,831.7 870.5,835.3 878.5,841.0 886.5,863.6 894.5,873.7 902.5,879.0 910.5,869.8 918.5,870.3 926.5,850.2 934.5,852.1 942.5,835.2 950.5,835.9 958.5,835.9 966.5,833.7 974.5,827.6 982.5,818.2 990.5,816.8 998.5,815.7 1006.5,821.3 1014.5,814.8 1022.5,807.1 1030.5,806.9 1038.5,810.6 1046.5,808.2 1054.5,809.2 1062.5,814.3 1070.5,824.8 1078.5,820.8 1086.5,820.4 1094.5,824.4 1102.5,826.4 1110.5,830.5 1118.5,829.9 1126.5,804.4 1134.5,807.7 1142.5,805.3 1150.5,822.5 1158.5,819.8 1166.5,843.6 1174.5,838.9 1182.5,838.5 1190.5,839.6 1198.5,837.8 1206.5,837.4 1214.5,849.9 1222.5,861.3 1230.5,852.5 1238.5,846.8 1246.5,848.8 1254.5,850.9 1262.5,846.8 1270.5,832.9 1278.5,831.8 1286.5,831.8 1294.5,841.7" fill="none" stroke="#1e90ff" stroke-width="1" />
<rect x="1627" y="52" width="2" height="1" fill="#000"/>
<rect x="1627" y="85" width="2" height="1" fill="#000"/>
<rect x="1627" y="118" width="2" height="1" fill="#000"/>
<rect x="1627" y="151" width="2" height="1" fill="#000"/>
<rect x="1627" y="184" width="2" height="1" fill="#000"/>
<rect x="1627" y="217" width="2" height="1" fill="#000"/>
<rect x="1627" y="250" width="2" height="1" fill="#000"/>
<rect x="1627" y="283" width="2" height="1" fill="#000"/>
<rect x="1627" y="316" width="2" height="1" fill="#000"/>
<rect x="1627" y="349" width="2" height="1" fill="#000"/>
<rect x="1627" y="382" width="2" height="1" fill="#000"/>
<rect x="1627" y="415" width="2" height="1" fill="#000"/>
<rect x="1627" y="448" width="2" height="1" fill="#000"/>
<rect x="1627" y="481" width="2" height="1" fill="#000"/>
<rect x="1627" y="514" width="2" height="1" fill="#000"/>
<rect x="1627" y="547" width="2" height="1" fill="#000"/>
<rect x="1627" y="580" width="2" height="1" fill="#000"/>
<rect x="1627" y="587" width="2" height="1" fill="#000"/>
<rect x="1627" y="699" width="2" height="1" fill="#000"/>
<rect x="1627" y="767" width="2" height="1" fill="#000"/>
<rect x="1627" y="772" width="2" height="1" fill="#000"/>
<rect x="1627" y="803" width="2" height="1" fill="#000"/>
<rect x="1627" y="850" width="2" height="1" fill="#000"/>
<rect x="1627" y="906" width="2" height="1" fill="#000"/>
<rect x="1627" y="928" width="2" height="1" fill="#000"/>
<rect x="62" y="931" width="1" height="3" fill="#000"/>
<rect x="126" y="931" width="1" height="3" fill="#000"/>
<rect x="190" y="931" width="1" height="3" fill="#000"/>
<rect x="254" y="931" width="1" height="3" fill="#000"/>
<rect x="318" y="931" width="1" height="3" fill="#000"/>
<rect x="382" y="931" width="1" height="3" fill="#000"/>
<rect x="446" y="931" width="1" height="3" fill="#000"/>
<rect x="510" y="931" width="1" height="3" fill="#000"/>
<rect x="574" y="931" width="1" height="3" fill="#000"/>
<rect x="638" y="931" width="1" height="3" fill="#000"/>
<rect x="702" y="931" width="1" height="3" fill="#000"/>
<rect x="766" y="931" width="1" height="3" fill="#000"/>
<rect x="830" y="931" width="1" height="3" fill="#000"/>
<rect x="894" y="931" width="1" height="3" fill="#000"/>
<rect x="958" y="931" width="1" height="3" fill="#000"/>
<rect x="1022" y="931" width="1" height="3" fill="#000"/>
<rect x="1086" y="931" width="1" height="3" fill="#000"/>
<rect x="1150" y="931" width="1" height="3" fill="#000"/>
<rect x="1214" y="931" width="1" height="3" fill="#000"/>
<rect x="1278" y="931" width="1" height="3" fill="#000"/>
<rect x="1342" y="931" width="1" height="3" fill="#000"/>
<polygon points="1294,31 1303,31 1298.5,35.6" fill="#c0c0c0"/>
<rect x="1620" y="58" width="6" height="6" fill="#ff0000"/>
<rect x="1622" y="60" width="2" height="2" fill="#fff"/>
<rect x="1620" y="80" width="6" height="6" fill="#ff0000"/>
<rect x="1622" y="82" width="2" height="2" fill="#fff"/>
<rect x="1620" y="130" width="6" height="6" fill="#0000ff"/>
<rect x="1622" y="132" width="2" height="2" fill="#fff"/>
<rect x="0" y="130" width="3" height="6" fill="#0000ff"/>
<rect x="0" y="132" width="1" height="2" fill="#fff"/>
</svg>
<div class="t" style="left:1632px;top:49px;font-size:10px;color:#000;letter-spacing:-0.35px;">23663.0</div>
<div class="t" style="left:1632px;top:82px;font-size:10px;color:#000;letter-spacing:-0.35px;">23510.0</div>
<div class="t" style="left:1632px;top:115px;font-size:10px;color:#000;letter-spacing:-0.35px;">23357.0</div>
<div class="t" style="left:1632px;top:148px;font-size:10px;color:#000;letter-spacing:-0.35px;">23208.5</div>
<div class="t" style="left:1632px;top:181px;font-size:10px;color:#000;letter-spacing:-0.35px;">23055.5</div>
<div class="t" style="left:1632px;top:214px;font-size:10px;color:#000;letter-spacing:-0.35px;">22907.0</div>
<div class="t" style="left:1632px;top:247px;font-size:10px;color:#000;letter-spacing:-0.35px;">22754.0</div>
<div class="t" style="left:1632px;top:280px;font-size:10px;color:#000;letter-spacing:-0.35px;">22605.5</div>
<div class="t" style="left:1632px;top:313px;font-size:10px;color:#000;letter-spacing:-0.35px;">22452.5</div>
<div class="t" style="left:1632px;top:346px;font-size:10px;color:#000;letter-spacing:-0.35px;">22299.5</div>
<div class="t" style="left:1632px;top:379px;font-size:10px;color:#000;letter-spacing:-0.35px;">22151.0</div>
<div class="t" style="left:1632px;top:412px;font-size:10px;color:#000;letter-spacing:-0.35px;">21998.0</div>
<div class="t" style="left:1632px;top:445px;font-size:10px;color:#000;letter-spacing:-0.35px;">21849.5</div>
<div class="t" style="left:1632px;top:478px;font-size:10px;color:#000;letter-spacing:-0.35px;">21696.5</div>
<div class="t" style="left:1632px;top:511px;font-size:10px;color:#000;letter-spacing:-0.35px;">21548.0</div>
<div class="t" style="left:1632px;top:544px;font-size:10px;color:#000;letter-spacing:-0.35px;">21395.0</div>
<div class="t" style="left:1632px;top:577px;font-size:10px;color:#000;letter-spacing:-0.35px;">21246.5</div>
<div style="position:absolute;left:1628px;top:55px;width:41px;height:11px;background:#ff0000"></div>
<div class="t" style="left:1632px;top:57px;font-size:10px;color:#fff;letter-spacing:-0.35px;">23617.9</div>
<div style="position:absolute;left:1628px;top:77px;width:41px;height:11px;background:#ff0000"></div>
<div class="t" style="left:1632px;top:79px;font-size:10px;color:#fff;letter-spacing:-0.35px;">23517.4</div>
<div style="position:absolute;left:1628px;top:95px;width:41px;height:11px;background:#000000"></div>
<div class="t" style="left:1632px;top:97px;font-size:10px;color:#fff;letter-spacing:-0.35px;">23440.0</div>
<div style="position:absolute;left:1628px;top:106px;width:41px;height:11px;background:#22c822"></div>
<div class="t" style="left:1632px;top:108px;font-size:10px;color:#fff;letter-spacing:-0.35px;">23385.3</div>
<div style="position:absolute;left:1628px;top:127px;width:41px;height:11px;background:#0000ff"></div>
<div class="t" style="left:1632px;top:129px;font-size:10px;color:#fff;letter-spacing:-0.35px;">23289.0</div>
<div style="position:absolute;left:1628px;top:149px;width:41px;height:11px;background:#0000ff"></div>
<div class="t" style="left:1632px;top:151px;font-size:10px;color:#fff;letter-spacing:-0.35px;">23189.9</div>
<div class="t" style="left:-4px;top:936px;font-size:10px;color:#000;letter-spacing:-0.25px;">4 Oct 2019</div>
<div class="t" style="left:61px;top:936px;font-size:10px;color:#000;letter-spacing:-0.25px;">8 Oct 00:00</div>
<div class="t" style="left:125px;top:936px;font-size:10px;color:#000;letter-spacing:-0.25px;">9 Oct 10:55</div>
<div class="t" style="left:189px;top:936px;font-size:10px;color:#000;letter-spacing:-0.25px;">10 Oct 18:55</div>
<div class="t" style="left:253px;top:936px;font-size:10px;color:#000;letter-spacing:-0.25px;">14 Oct 00:00</div>
<div class="t" style="left:317px;top:936px;font-size:10px;color:#000;letter-spacing:-0.25px;">15 Oct 10:55</div>
<div class="t" style="left:381px;top:936px;font-size:10px;color:#000;letter-spacing:-0.25px;">16 Oct 18:55</div>
<div class="t" style="left:445px;top:936px;font-size:10px;color:#000;letter-spacing:-0.25px;">18 Oct 00:00</div>
<div class="t" style="left:509px;top:936px;font-size:10px;color:#000;letter-spacing:-0.25px;">21 Oct 10:55</div>
<div class="t" style="left:573px;top:936px;font-size:10px;color:#000;letter-spacing:-0.25px;">22 Oct 18:55</div>
<div class="t" style="left:637px;top:936px;font-size:10px;color:#000;letter-spacing:-0.25px;">24 Oct 00:00</div>
<div class="t" style="left:701px;top:936px;font-size:10px;color:#000;letter-spacing:-0.25px;">25 Oct 10:55</div>
<div class="t" style="left:765px;top:936px;font-size:10px;color:#000;letter-spacing:-0.25px;">28 Oct 18:55</div>
<div class="t" style="left:829px;top:936px;font-size:10px;color:#000;letter-spacing:-0.25px;">30 Oct 00:00</div>
<div class="t" style="left:893px;top:936px;font-size:10px;color:#000;letter-spacing:-0.25px;">31 Oct 10:55</div>
<div class="t" style="left:957px;top:936px;font-size:10px;color:#000;letter-spacing:-0.25px;">1 Nov 18:55</div>
<div class="t" style="left:1021px;top:936px;font-size:10px;color:#000;letter-spacing:-0.25px;">5 Nov 00:00</div>
<div class="t" style="left:1085px;top:936px;font-size:10px;color:#000;letter-spacing:-0.25px;">6 Nov 10:55</div>
<div class="t" style="left:1149px;top:936px;font-size:10px;color:#000;letter-spacing:-0.25px;">7 Nov 18:55</div>
<div class="t" style="left:1213px;top:936px;font-size:10px;color:#000;letter-spacing:-0.25px;">11 Nov 00:00</div>
<div class="t" style="left:1277px;top:936px;font-size:10px;color:#000;letter-spacing:-0.25px;">12 Nov 10:55</div>
<div class="t" style="left:2px;top:591px;font-size:10px;color:#000;letter-spacing:-0.28px;">MACD(12,26,9) 47.62 37.05</div>
<div class="t" style="left:1630px;top:589px;font-size:10px;color:#000;letter-spacing:-0.35px;">237.19</div>
<div class="t" style="left:1630px;top:696px;font-size:10px;color:#000;letter-spacing:-0.35px;">0.00</div>
<div class="t" style="left:1629px;top:758px;font-size:10px;color:#000;letter-spacing:-0.35px;">-144.28</div>
<div class="t" style="left:2px;top:776px;font-size:10px;color:#000;letter-spacing:-0.27px;">RSI(14) 55.5063</div>
<div class="t" style="left:1630px;top:774px;font-size:10px;color:#000;letter-spacing:-0.35px;">100</div>
<div class="t" style="left:1630px;top:800px;font-size:10px;color:#000;letter-spacing:-0.35px;">80</div>
<div class="t" style="left:1630px;top:847px;font-size:10px;color:#000;letter-spacing:-0.35px;">50</div>
<div class="t" style="left:1630px;top:903px;font-size:10px;color:#000;letter-spacing:-0.35px;">15</div>
<div class="t" style="left:1630px;top:920px;font-size:10px;color:#000;letter-spacing:-0.35px;">0</div>
<div class="t" style="left:12px;top:35px;font-size:10px;color:#000;letter-spacing:-0.38px;">JPN225-,H4&nbsp; 23507.5 23512.5 23412.5 23440.0</div>
<svg width="10" height="10" style="position:absolute;left:0;top:34px"><path d="M1 5.5 L4.5 1.5 L8 5.5 Z" fill="#000"/></svg>
<div style="position:absolute;left:1369px;top:96px;width:98px;height:31px;border:1px solid #ff0000;background:#fff"></div>
<div class="t" style="left:1370px;top:99.5px;font-size:27px;color:#ff0000">23385.3</div>
<div class="t" style="left:1338px;top:163px;font-size:32px;font-weight:500;color:#00ff00;text-shadow:-1px 1px 0 #0a3a0a">多空转折点</div>
<div style="position:absolute;left:1672px;top:28px;width:1px;height:923px;background:#dfdfdf"></div>
<div style="position:absolute;left:0;top:0;width:1673px;height:28px;background:#f0f0f0"></div>
<svg width="1673" height="28" style="position:absolute;left:0;top:0">
<rect x="0" y="0" width="1673" height="1" fill="#fcfcfc"/>
<rect x="0" y="25" width="1673" height="1" fill="#f7f7f7"/>
<rect x="0" y="26" width="1672" height="1" fill="#a2a2a2"/>
<rect x="0" y="27" width="1672" height="1" fill="#646464"/>
<rect x="223" y="1" width="1" height="24" fill="#8c8c8c"/><rect x="224" y="1" width="1" height="24" fill="#fff"/>
<rect x="591" y="1" width="1" height="24" fill="#8c8c8c"/><rect x="592" y="1" width="1" height="24" fill="#fff"/>
<rect x="897" y="1" width="1" height="24" fill="#8c8c8c"/><rect x="898" y="1" width="1" height="24" fill="#fff"/>
<rect x="1158" y="1" width="1" height="24" fill="#8c8c8c"/><rect x="1159" y="1" width="1" height="24" fill="#fff"/>
<rect x="318" y="3" width="1" height="21" fill="#a6a6a6"/>
<rect x="408" y="3" width="1" height="21" fill="#a6a6a6"/>
<rect x="470" y="3" width="1" height="21" fill="#a6a6a6"/>
<rect x="658" y="3" width="1" height="21" fill="#a6a6a6"/>
<rect x="227" y="4" width="3" height="1" fill="#a8a8a8"/>
<rect x="227" y="6" width="3" height="1" fill="#a8a8a8"/>
<rect x="227" y="8" width="3" height="1" fill="#a8a8a8"/>
<rect x="227" y="10" width="3" height="1" fill="#a8a8a8"/>
<rect x="227" y="12" width="3" height="1" fill="#a8a8a8"/>
<rect x="227" y="14" width="3" height="1" fill="#a8a8a8"/>
<rect x="227" y="16" width="3" height="1" fill="#a8a8a8"/>
<rect x="227" y="18" width="3" height="1" fill="#a8a8a8"/>
<rect x="227" y="20" width="3" height="1" fill="#a8a8a8"/>
<rect x="227" y="22" width="3" height="1" fill="#a8a8a8"/>
<rect x="595" y="4" width="3" height="1" fill="#a8a8a8"/>
<rect x="595" y="6" width="3" height="1" fill="#a8a8a8"/>
<rect x="595" y="8" width="3" height="1" fill="#a8a8a8"/>
<rect x="595" y="10" width="3" height="1" fill="#a8a8a8"/>
<rect x="595" y="12" width="3" height="1" fill="#a8a8a8"/>
<rect x="595" y="14" width="3" height="1" fill="#a8a8a8"/>
<rect x="595" y="16" width="3" height="1" fill="#a8a8a8"/>
<rect x="595" y="18" width="3" height="1" fill="#a8a8a8"/>
<rect x="595" y="20" width="3" height="1" fill="#a8a8a8"/>
<rect x="595" y="22" width="3" height="1" fill="#a8a8a8"/>
<rect x="900" y="4" width="3" height="1" fill="#a8a8a8"/>
<rect x="900" y="6" width="3" height="1" fill="#a8a8a8"/>
<rect x="900" y="8" width="3" height="1" fill="#a8a8a8"/>
<rect x="900" y="10" width="3" height="1" fill="#a8a8a8"/>
<rect x="900" y="12" width="3" height="1" fill="#a8a8a8"/>
<rect x="900" y="14" width="3" height="1" fill="#a8a8a8"/>
<rect x="900" y="16" width="3" height="1" fill="#a8a8a8"/>
<rect x="900" y="18" width="3" height="1" fill="#a8a8a8"/>
<rect x="900" y="20" width="3" height="1" fill="#a8a8a8"/>
<rect x="900" y="22" width="3" height="1" fill="#a8a8a8"/>
<rect x="261" y="2" width="25" height="22" fill="#f8f8f8"/>
<rect x="261" y="2" width="25" height="1" fill="#a0a0a0"/>
<rect x="261" y="2" width="1" height="22" fill="#a0a0a0"/>
<rect x="413" y="2" width="25" height="22" fill="#f8f8f8"/>
<rect x="413" y="2" width="25" height="1" fill="#a0a0a0"/>
<rect x="413" y="2" width="1" height="22" fill="#a0a0a0"/>
<rect x="441" y="2" width="25" height="22" fill="#f8f8f8"/>
<rect x="441" y="2" width="25" height="1" fill="#a0a0a0"/>
<rect x="441" y="2" width="1" height="22" fill="#a0a0a0"/>
<rect x="601" y="2" width="25" height="22" fill="#f8f8f8"/>
<rect x="601" y="2" width="25" height="1" fill="#a0a0a0"/>
<rect x="601" y="2" width="1" height="22" fill="#a0a0a0"/>
<rect x="1047" y="2" width="25" height="22" fill="#f8f8f8"/>
<rect x="1047" y="2" width="25" height="1" fill="#a0a0a0"/>
<rect x="1047" y="2" width="1" height="22" fill="#a0a0a0"/>
<path d="M-3 6.5 H5.5 L8.5 9.5 V19.5 H-3 Z" fill="#fbfbfb" stroke="#6c6c6c" stroke-width="1"/>
<rect x="-2" y="8" width="3" height="1" fill="#999"/><rect x="-2" y="14" width="5" height="1" fill="#999"/>
<path d="M5 12.5 H9 V16.5 H12.5 V20.5 H9 V24 H5 V20.5 H1.5 V16.5 H5 Z" fill="#1fd31f" stroke="#0a8a0a" stroke-width="1"/>
<path d="M65.5 14.5 L72.5 7.5 L80 12.5 L79 15 L73 21 L66 17 Z" fill="#b07818"/>
<path d="M65.5 14 L72.5 7.5 L79.5 12.5 L72.5 19 Z" fill="#f2c428" stroke="#b07818" stroke-width="0.8"/>
<path d="M68 14 L72.5 10 L76.5 12.8" fill="none" stroke="#fbe27a" stroke-width="1.2"/>
<path d="M93.5 8.5 L96 6.5 H104.5 V15.5 H93.5 Z" fill="#2f8fe6" stroke="#1a62b8"/>
<rect x="97" y="9" width="6" height="1.5" fill="#d8ecff"/><rect x="95" y="7" width="9" height="1" fill="#7fc0ff"/>
<path d="M93 20.5 Q91.5 17 95 16.5 Q96 13.5 100 14.5 Q103 12.5 105 15.5 Q108.5 16 107.5 19.5 Q107 21 104 21 H95 Q93 21 93 20.5 Z" fill="#eef3fa" stroke="#7c98c4" stroke-width="0.9"/>
<path d="M128 6 A7.5 7.5 0 0 0 128 21" fill="none" stroke="#8ab0e8" stroke-width="1"/>
<path d="M128 8.5 A5 5 0 0 0 128 18.5" fill="none" stroke="#5a88d8" stroke-width="1"/>
<path d="M128 6 A7.5 7.5 0 0 1 128 21" fill="none" stroke="#7ab87a" stroke-width="1.2"/>
<path d="M128 8.5 A5 5 0 0 1 128 18.5" fill="none" stroke="#60b060" stroke-width="1"/>
<circle cx="127.5" cy="13" r="2" fill="#2a5ad0"/>
<rect x="127.5" y="14" width="1.5" height="7.5" fill="#20a020"/>
<path d="M148 16 L160 16 L156 21 L152 21 Z" fill="#f0d040" stroke="#c0a020" stroke-width="0.8"/>
<ellipse cx="155" cy="11" rx="7.5" ry="3" fill="#5ab0e0" stroke="#2a80b8" stroke-width="0.8"/>
<ellipse cx="155" cy="9" rx="3.5" ry="3" fill="#6ac0f0" stroke="#2a80b8" stroke-width="0.8"/>
<circle cx="159" cy="17.5" r="4.3" fill="#d82010"/>
<rect x="157" y="15.5" width="4" height="4" fill="#fff"/>
<rect x="240" y="9" width="1" height="13" fill="#555"/><rect x="239" y="19" width="14" height="1" fill="#555"/>
<path d="M238.5 10.5 L240.5 8 L242.5 10.5 Z" fill="#555"/><path d="M251 17 L253.5 19.5 L251 22 Z" fill="#555"/>
<path d="M247.5 9.5 V17.5 M247.5 9.5 H250 M247.5 16.5 H245" fill="none" stroke="#1a9a1a" stroke-width="1"/>
<rect x="268" y="9" width="1" height="13" fill="#555"/><rect x="267" y="19" width="14" height="1" fill="#555"/>
<path d="M266.5 10.5 L268.5 8 L270.5 10.5 Z" fill="#555"/><path d="M279 17 L281.5 19.5 L279 22 Z" fill="#555"/>
<rect x="273.5" y="8.5" width="4" height="7" fill="#40e060" stroke="#108a10"/><rect x="275" y="6" width="1" height="12" fill="#108a10"/>
<rect x="296" y="9" width="1" height="13" fill="#555"/><rect x="295" y="19" width="14" height="1" fill="#555"/>
<path d="M294.5 10.5 L296.5 8 L298.5 10.5 Z" fill="#555"/><path d="M307 17 L309.5 19.5 L307 22 Z" fill="#555"/>
<path d="M296 16.5 Q301 8 304 11.5 T309 15" fill="none" stroke="#2a9a2a" stroke-width="1"/>
<path d="M336 16 L342 21" stroke="#c89a18" stroke-width="2.6"/>
<circle cx="333" cy="12.2" r="5.5" fill="#dff0ff" stroke="#3a7ad0" stroke-width="1.2"/>
<rect x="330" y="11.2" width="6" height="2" fill="#4a7aa0"/>
<rect x="332" y="9.2" width="2" height="6" fill="#4a7aa0"/>
<path d="M364 16 L370 21" stroke="#c89a18" stroke-width="2.6"/>
<circle cx="361" cy="12.2" r="5.5" fill="#dff0ff" stroke="#3a7ad0" stroke-width="1.2"/>
<rect x="358" y="11.2" width="6" height="2" fill="#4a7aa0"/>
<rect x="383" y="6" width="8" height="8" fill="#3aa02a"/><rect x="384" y="9" width="6" height="3" fill="#e8f0e8"/>
<rect x="391" y="6" width="8" height="8" fill="#2a5ad8"/><rect x="392" y="9" width="6" height="3" fill="#e8f0e8"/>
<rect x="383" y="14" width="8" height="8" fill="#2a5ad8"/><rect x="384" y="17" width="6" height="3" fill="#e8f0e8"/>
<rect x="391" y="14" width="8" height="8" fill="#3aa02a"/><rect x="392" y="17" width="6" height="3" fill="#e8f0e8"/>
<rect x="420" y="9" width="1" height="13" fill="#555"/><rect x="419" y="19" width="14" height="1" fill="#555"/>
<path d="M418.5 10.5 L420.5 8 L422.5 10.5 Z" fill="#555"/><path d="M431 17 L433.5 19.5 L431 22 Z" fill="#555"/>
<path d="M426.5 10 L430 13 L426.5 16 Z" fill="#1ab04a"/>
<rect x="448" y="9" width="1" height="13" fill="#555"/><rect x="447" y="19" width="14" height="1" fill="#555"/>
<path d="M446.5 10.5 L448.5 8 L450.5 10.5 Z" fill="#555"/><path d="M459 17 L461.5 19.5 L459 22 Z" fill="#555"/>
<rect x="455" y="8" width="1" height="10" fill="#2a70b0"/><path d="M457 13 L461 10.5 V15.5 Z M459 12.5 H462 V13.5 H459 Z" fill="#e05010"/>
<path d="M480.5 6.5 H488.5 L491.5 9.5 V19.5 H480.5 Z" fill="#fafafa" stroke="#707070"/>
<path d="M488 12.5 H491.5 V16 H495 V20 H491.5 V23.5 H488 V20 H484.5 V16 H488 Z" fill="#1fd31f" stroke="#0a8a0a"/>
<path d="M502 13 H508 L505 16 Z" fill="#000"/>
<circle cx="526" cy="14" r="7" fill="#f8fbff" stroke="#0a5ccc" stroke-width="2.6"/>
<path d="M525.5 9.5 V14.5 H528.5" fill="none" stroke="#333" stroke-width="1.1"/>
<rect x="521" y="14" width="1" height="1" fill="#999"/><rect x="530" y="14" width="1" height="1" fill="#999"/><rect x="525.5" y="18" width="1" height="1" fill="#7aa0d0"/>
<path d="M540 13 H546 L543 16 Z" fill="#000"/>
<rect x="557.5" y="7.5" width="15" height="13" fill="#fff" stroke="#3a7ad0"/><rect x="558" y="8" width="14" height="2" fill="#7ab0e8"/>
<rect x="558" y="14.5" width="14" height="1" fill="#3a7ad0"/>
<path d="M559 13 L561 12.5 L563 11.5 L565 12.5 L567 11 L570 11.5" fill="none" stroke="#a02010" stroke-width="1"/>
<path d="M559 18.5 L561 18 L563 18.5 L565 17 L567 16 L570 18.5" fill="none" stroke="#10a010" stroke-width="1"/>
<path d="M579 13 H585 L582 16 Z" fill="#000"/>
<path d="M609 7 V19 L612 16.5 L614.5 21 L616 20.2 L613.8 15.8 L617.5 15.5 Z" fill="#505050"/>
<rect x="634" y="14" width="6" height="1" fill="#555"/><rect x="643" y="14" width="6" height="1" fill="#555"/>
<rect x="641" y="7" width="1" height="6" fill="#555"/><rect x="641" y="16" width="1" height="6" fill="#555"/>
<rect x="675" y="8" width="1.3" height="13" fill="#444"/>
<rect x="698" y="14" width="12" height="1.3" fill="#444"/>
<path d="M726 21 L738 9" stroke="#444" stroke-width="1.2"/>
<path d="M752 17 L763 8 M754 21 L765 12" stroke="#444" stroke-width="1.1" fill="none"/>
<path d="M754.5 18.5 L756.0 14.0" stroke="#444" stroke-width="1"/>
<path d="M757.1 16.3 L758.6 11.8" stroke="#444" stroke-width="1"/>
<path d="M759.7 14.1 L761.2 9.6" stroke="#444" stroke-width="1"/>
<path d="M762.3 11.899999999999999 L763.8 7.3999999999999995" stroke="#444" stroke-width="1"/>
<rect x="762.5" y="6" width="1" height="6" fill="#444"/>
<text x="762" y="23.5" font-size="7" font-weight="bold" fill="#333" font-family="Liberation Sans">E</text>
<path d="M781 8.5 H795" stroke="#555" stroke-width="1" stroke-dasharray="1 1"/>
<path d="M781 11.5 H795" stroke="#555" stroke-width="1" stroke-dasharray="1 1"/>
<path d="M781 14.5 H795" stroke="#555" stroke-width="1" stroke-dasharray="1 1"/>
<path d="M781 18.5 H795" stroke="#555" stroke-width="1" stroke-dasharray="1 1"/>
<text x="791" y="23.5" font-size="7" font-weight="bold" fill="#333" font-family="Liberation Sans">F</text>
<text x="811" y="19.5" font-size="12" font-weight="bold" fill="#555" font-family="Liberation Sans">A</text>
<rect x="838.5" y="8.5" width="11" height="12" fill="none" stroke="#555" stroke-dasharray="1 1"/>
<rect x="837" y="7" width="2" height="2" fill="#555"/>
<rect x="840" y="10" width="8" height="2" fill="#555"/><rect x="843" y="10" width="2" height="9" fill="#555"/>
<path d="M865 11 L868.5 7.5 L872 11 Z M871 10 H874 L871 13 Z" fill="#444"/>
<path d="M873 18 L876.5 21.5 L880 18 Z M877 16 H880 L877 19 Z" fill="#444"/>
<path d="M867 14.5 L869.5 17 L874 12.5" stroke="#444" stroke-width="1.3" fill="none"/>
<path d="M885 13 H891 L888 16 Z" fill="#000"/>
<circle cx="1626.5" cy="12.5" r="4.5" fill="none" stroke="#2a6ae0" stroke-width="1.5"/>
<path d="M1623.5 15.5 L1620 19" stroke="#2a5ac0" stroke-width="2"/>
<ellipse cx="1661" cy="11" rx="6.5" ry="5" fill="#e2e2e2" stroke="#9a9a9a"/>
<path d="M1662 15.5 L1664 18 L1664.5 15" fill="#e2e2e2" stroke="#9a9a9a" stroke-width="0.8"/>
<ellipse cx="1652" cy="14.5" rx="5" ry="4" fill="#ececec" stroke="#9a9a9a"/>
<path d="M1650 18 L1649 21 L1653 18.3" fill="#ececec" stroke="#9a9a9a" stroke-width="0.8"/>
</svg>
<div style="position:absolute;top:6px;font-size:12px;line-height:12px;color:#000;white-space:nowrap;font-weight:500;left:16px">新订单</div>
<div style="position:absolute;top:6px;font-size:12px;line-height:12px;color:#000;white-space:nowrap;font-weight:500;left:169px">自动交易</div>
<div style="position:absolute;top:10px;font-size:9.6px;line-height:10px;color:#333;white-space:nowrap;left:912px">M1</div>
<div style="position:absolute;top:10px;font-size:9.6px;line-height:10px;color:#333;white-space:nowrap;left:940px">M5</div>
<div style="position:absolute;top:10px;font-size:9.6px;line-height:10px;color:#333;white-space:nowrap;left:966px">M15</div>
<div style="position:absolute;top:10px;font-size:9.6px;line-height:10px;color:#333;white-space:nowrap;left:994px">M30</div>
<div style="position:absolute;top:10px;font-size:9.6px;line-height:10px;color:#333;white-space:nowrap;left:1025px">H1</div>
<div style="position:absolute;top:10px;font-size:9.6px;line-height:10px;color:#333;white-space:nowrap;left:1052px">H4</div>
<div style="position:absolute;top:10px;font-size:9.6px;line-height:10px;color:#333;white-space:nowrap;left:1081px">D1</div>
<div style="position:absolute;top:10px;font-size:9.6px;line-height:10px;color:#333;white-space:nowrap;left:1108px">W1</div>
<div style="position:absolute;top:10px;font-size:9.6px;line-height:10px;color:#333;white-space:nowrap;left:1135px">MN</div>
<div style="position:absolute;left:0;top:47px;width:222px;height:69px;background:#fff"></div>
<svg width="230" height="120" style="position:absolute;left:0;top:0" shape-rendering="crispEdges">
<defs><linearGradient id="rg" x1="0" y1="50" x2="0" y2="114" gradientUnits="userSpaceOnUse">
<stop offset="0" stop-color="#f65a5a"/><stop offset="0.36" stop-color="#e23a3a"/><stop offset="0.4" stop-color="#dc3030"/><stop offset="1" stop-color="#b00404"/></linearGradient></defs>
<path d="M1.5 50.5 H52.5 V74.5 H109.5 V113.5 H1.5 Z" fill="url(#rg)" stroke="#b40a0a" stroke-width="1"/>
<path d="M168.5 50.5 H219.5 V113.5 H112.5 V74.5 H168.5 Z" fill="url(#rg)" stroke="#b40a0a" stroke-width="1"/>
<rect x="5" y="73" width="45" height="1" fill="#8a0808"/><rect x="5" y="74" width="45" height="1" fill="#f06868"/>
<rect x="172" y="73" width="45" height="1" fill="#8a0808"/><rect x="172" y="74" width="45" height="1" fill="#f06868"/>
<rect x="55.5" y="50.5" width="110" height="21" fill="#fff" stroke="#a8a8a8"/>
<rect x="56" y="51" width="20" height="20" fill="#e6e6e6"/><rect x="76" y="51" width="1" height="20" fill="#b8b8b8"/>
<rect x="144" y="51" width="1" height="20" fill="#b8b8b8"/><rect x="145" y="51" width="20" height="20" fill="#e6e6e6"/>
<path d="M63 60 H68 L65.5 63 Z" fill="#000"/><path d="M152 62 H157 L154.5 59 Z" fill="#000"/>
</svg>
<div style="position:absolute;color:#fff;white-space:nowrap;line-height:1;left:13px;top:56px;font-size:11px;color:#ffe8e8">SELL</div>
<div style="position:absolute;color:#fff;white-space:nowrap;line-height:1;left:181px;top:56px;font-size:11px;color:#ffe8e8">BUY</div>
<div style="position:absolute;left:100px;top:55px;width:41px;text-align:right;font-size:12.5px;line-height:1;color:#000">1.00</div>
<div style="position:absolute;color:#fff;white-space:nowrap;line-height:1;left:17px;top:95px;font-size:12.5px;font-weight:bold">23438</div>
<div style="position:absolute;color:#fff;white-space:nowrap;line-height:1;left:127px;top:95px;font-size:12.5px;font-weight:bold">23461</div>
<div style="position:absolute;color:#fff;white-space:nowrap;line-height:1;left:54px;top:79px;font-size:31px;transform:scaleY(1.03);transform-origin:0 100%">.5</div>
<div style="position:absolute;color:#fff;white-space:nowrap;line-height:1;left:165px;top:79px;font-size:31px;transform:scaleY(1.03);transform-origin:0 100%">.5</div>
</body></html>
